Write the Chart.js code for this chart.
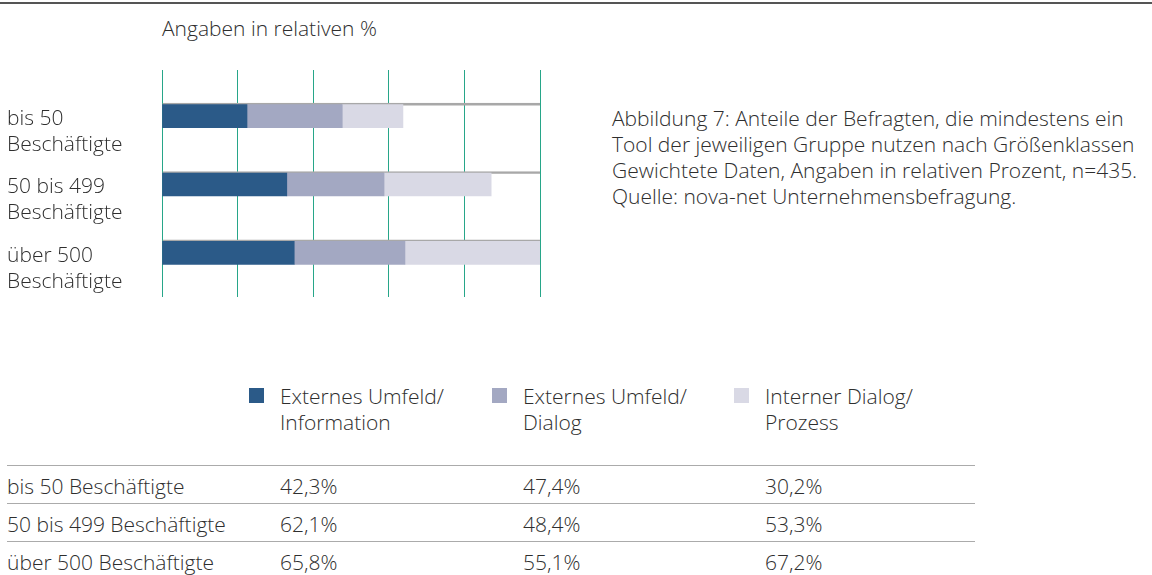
<!DOCTYPE html>
<html lang="de">
<head>
<meta charset="utf-8">
<script src="https://cdn.jsdelivr.net/npm/chart.js@4/dist/chart.umd.min.js"></script>
<style>
  html, body { margin: 0; padding: 0; background: #fff; }
  body {
    width: 1152px; height: 575px; position: relative; overflow: hidden;
    font-family: 'Open Sans', 'Noto Sans', sans-serif; font-weight: 300; font-size: 21px; color: #2e2e2e;
  }
  .rule { position: absolute; left: 0; top: 2px; width: 1152px; height: 2px; background: #555; }
  .unit { position: absolute; left: 162px; top: 15px; line-height: 26px; }
  .caption { position: absolute; left: 612px; top: 105px; line-height: 26px; white-space: nowrap; }
  #chartBox { position: absolute; left: 7px; top: 70px; width: 535px; height: 227px; }
  .legend-item { position: absolute; top: 383px; line-height: 26px; white-space: nowrap; }
  .legend-item .sw { position: absolute; left: -31px; top: 5px; width: 15px; height: 15px; }
  .row { position: absolute; left: 7px; width: 968px; height: 38px; border-top: 1.5px solid #ababab; }
  .row span { position: absolute; top: 7px; line-height: 26px; white-space: nowrap; }
</style>
</head>
<body>
<div class="rule"></div>
<div class="unit">Angaben in relativen %</div>
<div class="caption">Abbildung 7: Anteile der Befragten, die mindestens ein<br>Tool der jeweiligen Gruppe nutzen nach Größenklassen<br>Gewichtete Daten, Angaben in relativen Prozent, n=435.<br>Quelle: nova-net Unternehmensbefragung.</div>
<div id="chartBox"><canvas id="barChart"></canvas></div>
<div id="legend"></div>
<div id="table"></div>

<script>
// ─── Data ─────────────────────────────────────────────────────────────────────
const CATEGORIES   = ['bis 50 Beschäftigte', '50 bis 499 Beschäftigte', 'über 500 Beschäftigte'];
const AXIS_LABELS  = [['bis 50', 'Beschäftigte'], ['50 bis 499', 'Beschäftigte'], ['über 500', 'Beschäftigte']];
const SERIES_NAMES = [['Externes Umfeld/', 'Information'], ['Externes Umfeld/', 'Dialog'], ['Interner Dialog/', 'Prozess']];
const EXT_INFO     = [42.3, 62.1, 65.8];
const EXT_DIALOG   = [47.4, 48.4, 55.1];
const INT_PROZESS  = [30.2, 53.3, 67.2];
const AXIS_MAX     = 188.1;

const SERIES_COLORS = ['#2b5a88', '#a3a8c2', '#d9d9e5'];
const GRID_COLOR    = '#27a689';
const TRACK_COLOR   = '#a8a8a8';
const FONT_FAMILY   = "'Open Sans', 'Noto Sans', sans-serif";

const seriesValues = [EXT_INFO, EXT_DIALOG, INT_PROZESS];

// ─── Legend + table (HTML) ────────────────────────────────────────────────────
const legendX = [280, 523, 765];
const legendEl = document.getElementById('legend');
SERIES_NAMES.forEach((name, i) => {
  const d = document.createElement('div');
  d.className = 'legend-item';
  d.style.left = legendX[i] + 'px';
  d.innerHTML = `<span class="sw" style="background:${SERIES_COLORS[i]}"></span>${name[0]}<br>${name[1]}`;
  legendEl.appendChild(d);
});

const tableEl = document.getElementById('table');
const colX = [0, 273, 516, 758];
const fmt = v => v.toFixed(1).replace('.', ',') + '%';
CATEGORIES.forEach((cat, r) => {
  const row = document.createElement('div');
  row.className = 'row';
  row.style.top = (465 + r * 38) + 'px';
  const cells = [cat, ...seriesValues.map(s => fmt(s[r]))];
  row.innerHTML = cells.map((t, c) => `<span style="left:${colX[c]}px">${t}</span>`).join('');
  tableEl.appendChild(row);
});

// ─── Chart ────────────────────────────────────────────────────────────────────
const evenTicks = axis => {
  axis.ticks = [0, 1, 2, 3, 4, 5].map(i => ({ value: AXIS_MAX * i / 5 }));
};

const dataSets = seriesValues.map((vals, i) => ({
  label: SERIES_NAMES[i].join(' '),
  data: vals,
  backgroundColor: SERIES_COLORS[i],
  borderWidth: 0,
  barThickness: 23,
  stack: 'main',
  order: 1
}));

// grey track line across the full axis above each bar
dataSets.push({
  label: 'track',
  data: CATEGORIES.map(() => AXIS_MAX),
  backgroundColor: 'transparent',
  borderColor: TRACK_COLOR,
  borderWidth: { top: 2, right: 0, bottom: 0, left: 0 },
  borderSkipped: false,
  barThickness: 26,
  grouped: false,
  stack: 'track',
  order: 5
});

new Chart(document.getElementById('barChart'), {
  type: 'bar',
  data: { labels: AXIS_LABELS.map(l => ['', ...l]), datasets: dataSets },
  options: {
    indexAxis: 'y',
    responsive: true,
    maintainAspectRatio: false,
    animation: false,
    layout: { padding: { left: 0, right: 2, top: 0, bottom: 0 } },
    plugins: {
      legend: { display: false },
      tooltip: {
        filter: item => item.dataset.label !== 'track',
        callbacks: { label: ctx => ` ${ctx.dataset.label}: ${fmt(ctx.parsed.x)}` }
      }
    },
    scales: {
      x: {
        stacked: true, min: 0, max: AXIS_MAX,
        afterBuildTicks: evenTicks,
        border: { display: false },
        grid: { color: GRID_COLOR, lineWidth: 1, drawTicks: true, tickLength: 10 },
        ticks: { display: false }
      },
      xTop: {
        axis: 'x', position: 'top', min: 0, max: AXIS_MAX,
        afterBuildTicks: evenTicks,
        border: { display: false },
        grid: { color: GRID_COLOR, lineWidth: 1, drawTicks: true, tickLength: 12, drawOnChartArea: false },
        ticks: { display: false }
      },
      y: {
        stacked: true,
        afterFit: axis => {
          axis.width = 155;
          axis.paddingTop = 0;
          axis.paddingBottom = 0;
        },
        border: { display: false },
        grid: { display: false },
        ticks: {
          autoSkip: false,
          crossAlign: 'far',
          padding: 0,
          labelOffset: 3,
          color: '#2e2e2e',
          font: { family: FONT_FAMILY, size: 21, weight: 300, lineHeight: 26 / 21 }
        }
      }
    }
  }
});
</script>
</body>
</html>
